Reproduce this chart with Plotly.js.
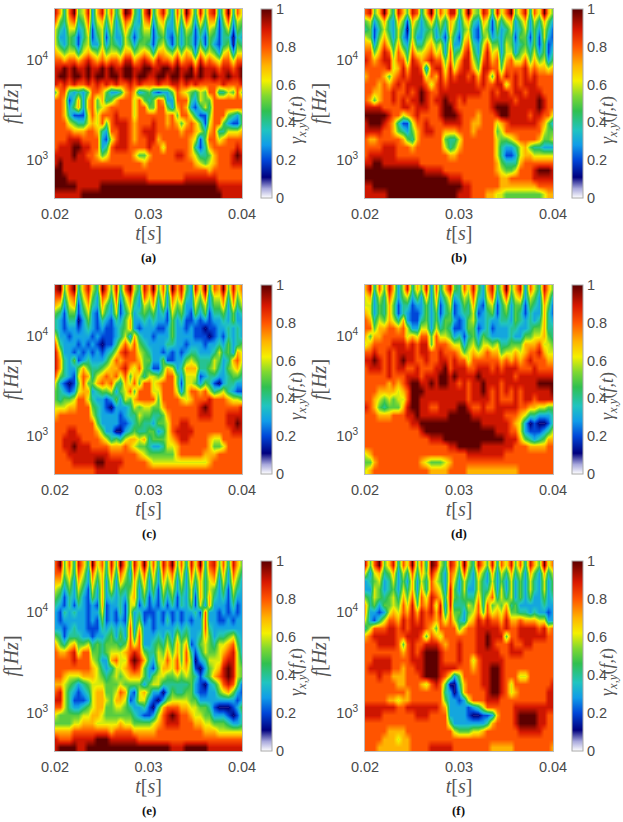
<!DOCTYPE html>
<html><head><meta charset="utf-8">
<script src="https://cdn.plot.ly/plotly-3.0.1.min.js"></script>
<style>html,body{margin:0;padding:0;background:#fff}#c{width:623px;height:822px}</style>
</head><body><div id="c"></div>
<script>
const times=[.02,.0205,.021,.0215,.022,.0225,.023,.0235,.024,.0245,.025,.0255,.026,.0265,.027,.0275,.028,.0285,.029,.0295,.03,.0305,.031,.0315,.032,.0325,.033,.0335,.034,.0345,.035,.0355,.036,.0365,.037,.0375,.038,.0385,.039,.0395,.04];
const freqs=[29580,24660,20560,17140,14320,11940,9950,8300,6930,5780,4820,4020,3360,2800,2330,1950,1625,1355,1130,942,787,656,547,456];
const tickLabelsX=[0.02,0.03,0.04];
const tickValsY=[1000,10000];
const tickLabelsY=["10<sup>3</sup>","10<sup>4</sup>"];
const barTicks=[0,0.2,0.4,0.6,0.8,1];
const panelLabels=["(a)","(b)","(c)","(d)","(e)","(f)"];
// coherence in tenths, rows listed from the highest frequency down
const coherenceA=[
[9,7,4,8,10,5,6,9,3,7,9,5,8,4,6,10,9,5,3,8,10,4,7,9,6,3,8,5,10,7,4,9,5,8,9,3,6,10,4,8,6],
[8,5,4,7,8,4,5,8,3,6,7,4,7,3,5,8,7,4,3,7,8,3,6,7,4,3,7,4,8,6,3,7,4,7,7,2,5,8,3,6,5],
[6,4,3,6,6,3,4,7,2,5,6,3,6,3,4,7,5,3,4,6,6,2,5,6,3,3,6,3,6,5,2,5,3,6,5,2,4,6,2,5,4],
[6,3,3,5,4,2,4,6,2,4,6,2,5,3,3,6,4,2,4,5,5,2,4,5,3,2,5,3,5,4,2,4,2,5,4,2,4,4,1,4,3],
[6,4,3,5,4,2,5,6,3,3,6,3,5,4,3,6,5,3,5,5,4,2,5,6,4,2,5,3,5,4,2,5,2,5,3,2,4,5,1,5,4],
[7,6,5,6,6,4,6,7,6,5,7,5,6,6,5,7,7,5,6,7,6,4,7,7,6,5,7,5,7,6,3,7,5,6,5,3,6,7,3,6,6],
[8,8,7,8,8,7,8,9,8,7,8,7,8,8,7,9,9,7,8,9,8,7,9,8,8,7,9,7,8,8,6,9,7,8,7,6,8,8,6,8,8],
[9,9,10,9,10,9,9,10,9,9,10,9,10,9,9,10,10,9,9,10,10,9,9,10,10,9,10,9,9,10,8,10,9,9,9,8,9,9,8,9,10],
[9,10,10,9,10,10,9,10,9,10,10,9,10,10,9,10,10,9,10,10,9,9,10,10,9,10,10,9,10,10,9,10,9,9,10,9,9,10,9,9,10],
[9,8,9,8,9,8,8,9,8,9,8,9,8,9,8,8,9,8,9,8,8,8,9,8,8,9,9,8,9,8,9,8,8,8,8,8,9,8,8,8,9],
[5,8,8,4,3,4,3,5,8,8,7,5,3,3,4,7,8,7,3,4,5,3,2,3,3,5,8,7,6,5,4,6,5,8,8,4,4,6,5,8,5],
[8,8,7,2,4,7,3,7,8,5,7,4,5,7,8,8,8,6,8,5,4,5,8,7,3,3,8,8,8,4,3,6,5,5,8,8,8,8,8,8,8],
[8,8,7,3,5,7,3,7,8,5,6,7,8,8,8,8,8,6,8,8,5,5,8,8,5,3,7,8,7,3,2,4,6,4,8,8,8,8,8,8,8],
[8,8,7,4,2,2,2,6,8,6,8,8,8,9,8,8,8,6,8,8,8,8,8,8,7,8,5,8,8,6,4,2,2,5,8,8,8,5,4,3,5],
[8,8,8,6,5,4,4,6,7,6,8,5,8,9,9,9,8,7,8,8,8,9,8,8,7,8,7,5,7,8,7,5,2,6,8,8,5,3,2,2,5],
[8,8,8,8,7,7,7,8,8,7,4,3,8,8,9,9,8,7,8,9,9,9,8,8,8,8,8,7,8,8,7,6,4,7,8,4,4,6,6,6,7],
[8,8,8,9,9,9,8,8,8,8,3,2,6,8,9,9,8,7,8,8,9,9,7,8,8,8,8,8,8,7,6,2,5,8,8,6,7,8,8,8,8],
[8,9,9,9,10,10,9,9,8,8,3,4,8,9,9,9,8,8,8,8,9,8,8,6,8,8,8,8,8,7,4,2,4,7,8,8,8,8,8,9,8],
[9,9,9,9,10,9,9,8,8,7,5,6,8,8,8,8,8,7,5,5,7,8,8,8,8,8,9,9,8,7,6,4,4,5,7,8,8,8,9,10,9],
[9,10,9,9,9,9,9,9,8,8,8,8,8,8,8,8,8,8,8,7,8,8,8,8,8,8,8,8,8,8,7,6,5,6,7,8,8,8,9,9,9],
[10,10,9,9,9,9,9,9,9,9,9,9,9,9,9,8,8,8,8,8,8,8,8,8,8,8,8,8,8,8,8,8,8,7,8,8,8,8,8,8,8],
[10,10,10,9,9,9,9,9,9,9,9,9,9,9,9,9,9,9,9,9,8,8,8,8,8,8,8,8,9,9,9,9,9,9,9,8,8,8,8,8,8],
[10,10,10,10,10,9,9,9,9,9,10,10,10,10,10,10,10,10,10,10,10,10,10,10,10,10,10,10,10,10,10,10,10,10,10,9,9,9,9,9,9],
[9,9,9,9,9,9,10,10,10,10,10,10,10,10,10,10,10,10,10,10,10,10,10,10,10,10,10,10,10,10,10,10,10,10,10,10,9,9,9,9,9]];
const coherenceB=[
[8,9,5,7,10,6,4,9,7,5,9,8,4,7,10,5,8,6,9,9,4,7,10,6,5,9,8,4,9,6,8,10,5,7,9,4,8,6,10,7,5],
[5,6,3,5,7,4,3,7,5,2,7,5,3,5,7,4,6,4,7,6,3,6,7,4,3,7,6,2,6,4,6,7,3,5,7,3,6,4,7,5,3],
[4,5,2,4,6,4,3,6,4,1,6,4,3,4,5,3,5,3,7,5,3,5,6,3,2,6,5,2,5,3,4,6,3,4,6,3,5,3,6,4,2],
[6,5,2,5,7,5,3,6,3,2,6,3,3,5,6,3,4,2,6,4,2,6,7,3,2,5,6,3,4,3,5,5,2,5,5,2,5,2,6,3,2],
[7,7,3,6,8,6,4,7,4,3,7,4,4,6,7,5,6,3,7,3,3,7,8,4,3,6,8,5,5,3,6,5,3,4,5,3,5,2,5,2,3],
[8,8,5,7,9,8,5,8,6,4,8,6,6,7,8,6,7,3,8,4,5,8,9,5,3,7,9,6,7,3,6,6,3,5,6,4,6,3,5,2,4],
[9,8,7,8,9,9,6,8,8,5,9,8,7,8,9,8,8,5,8,5,7,9,9,6,4,8,9,7,8,4,7,8,6,6,8,5,7,5,6,3,5],
[8,8,8,8,8,9,6,7,9,7,9,9,8,3,8,9,9,6,9,6,8,9,9,7,5,9,9,8,8,5,8,8,8,8,9,7,8,7,7,6,7],
[7,8,8,8,7,5,7,8,9,8,9,9,9,6,8,7,9,7,9,8,9,9,8,9,7,9,8,5,9,7,9,8,9,8,9,8,9,8,8,8,8],
[8,8,8,7,8,7,8,9,8,9,9,9,9,8,6,8,9,8,9,9,9,9,9,9,8,9,8,8,9,9,6,8,9,8,9,9,9,8,8,8,8],
[8,8,7,7,8,8,9,8,8,9,8,9,10,9,8,8,9,9,9,9,9,9,9,9,9,8,8,9,8,9,9,8,9,9,8,9,9,9,8,8,8],
[8,7,5,7,8,8,9,8,9,8,9,9,10,9,8,9,9,10,9,9,8,9,8,8,8,8,8,9,9,9,9,9,8,9,9,9,9,10,9,8,8],
[9,9,9,9,8,8,8,8,9,9,8,9,9,9,8,8,9,10,10,9,8,8,8,8,8,8,8,9,10,10,10,9,9,9,9,9,9,10,9,8,8],
[10,10,10,10,10,9,8,8,6,7,8,9,8,8,8,8,9,10,10,10,9,8,8,8,7,8,8,8,9,10,10,9,9,9,9,8,9,9,8,8,6],
[9,10,10,10,9,8,7,4,2,2,6,8,8,9,8,8,8,9,9,9,9,8,8,7,7,8,8,8,6,7,8,9,9,9,9,9,9,8,7,5,3],
[9,9,9,9,8,8,7,5,4,3,5,7,8,9,9,8,8,7,7,7,8,8,8,7,8,8,8,8,5,6,8,8,8,8,8,8,8,8,6,5,5],
[8,7,7,8,8,8,8,8,7,5,4,7,8,8,8,8,8,5,4,4,6,8,8,8,8,8,8,8,6,5,5,6,7,8,8,8,8,7,5,5,6],
[8,8,8,8,9,9,9,8,8,8,7,8,8,8,8,8,8,6,4,5,7,8,8,8,8,8,8,8,6,4,3,3,4,6,7,5,4,4,3,3,3],
[8,9,9,9,9,9,9,8,8,8,8,8,8,8,8,8,8,8,7,7,8,8,8,8,8,8,8,8,6,4,2,2,3,6,7,7,6,6,6,6,6],
[9,9,10,10,9,9,9,9,9,9,9,9,8,8,8,8,8,8,8,8,8,8,8,8,8,8,8,8,7,5,4,4,4,7,8,8,8,8,8,8,8],
[10,10,10,10,10,10,10,10,10,10,10,10,10,9,9,9,9,8,8,8,8,8,8,8,8,8,8,8,7,6,5,5,6,8,8,8,9,10,10,10,9],
[10,10,10,10,10,10,10,10,10,10,10,10,10,10,10,10,10,10,9,9,9,8,8,8,8,8,8,8,8,7,7,8,8,8,8,8,9,9,9,9,9],
[9,9,10,10,10,10,10,10,10,10,10,10,10,10,10,10,10,10,10,10,10,9,9,8,8,8,8,8,8,7,7,7,7,7,7,7,7,8,8,8,8],
[9,9,9,9,9,10,10,10,10,10,10,10,10,10,10,10,10,10,10,10,9,9,9,8,8,8,7,7,6,6,5,5,5,5,5,5,5,5,6,7,7]];
const coherenceC=[
[9,10,5,8,10,4,7,9,6,4,10,8,5,9,4,8,10,6,4,9,7,10,5,8,4,10,7,9,5,3,9,6,10,4,8,7,10,5,9,6,8],
[8,8,4,7,8,3,6,8,5,3,8,7,4,8,3,6,8,5,3,8,6,8,4,7,3,8,6,8,4,3,7,5,8,3,6,6,8,4,8,5,7],
[7,6,3,6,7,2,5,7,4,3,7,5,3,7,2,5,7,4,3,6,5,7,3,6,3,7,5,6,3,3,6,4,6,3,5,5,7,3,7,4,6],
[5,4,2,5,5,2,4,6,3,2,6,4,3,6,2,4,6,3,4,5,4,5,3,4,2,6,4,5,3,2,5,3,5,2,4,4,5,3,5,3,4],
[4,3,2,4,4,1,3,5,3,2,4,3,2,4,3,5,7,3,3,4,3,4,3,3,2,5,3,4,2,2,3,2,3,2,3,3,4,3,5,3,3],
[4,3,2,3,3,2,3,4,3,2,3,2,2,3,4,5,7,3,2,3,3,3,2,2,3,5,3,3,2,3,2,2,1,2,2,3,3,4,3,4,3],
[6,3,3,2,3,3,3,3,2,3,2,2,2,3,4,6,3,7,4,3,3,2,3,3,3,5,3,3,3,3,2,2,2,1,2,3,2,4,3,4,3],
[8,4,3,3,3,2,3,2,3,2,1,2,2,4,6,8,6,8,5,4,3,3,3,3,4,4,3,3,2,3,3,3,2,3,3,4,3,5,3,4,5],
[9,6,3,3,2,3,2,3,2,3,2,3,4,6,8,9,8,8,6,5,4,3,3,2,3,2,3,2,3,4,4,3,3,3,4,6,4,5,3,7,6],
[9,7,4,3,5,2,3,4,3,3,3,4,6,8,7,8,8,8,7,5,5,3,3,5,2,2,3,3,5,6,5,4,4,4,6,5,3,4,7,8,6],
[9,7,4,3,3,5,7,5,4,4,5,6,7,7,8,9,7,6,8,5,4,2,2,5,7,6,3,4,7,7,7,4,4,5,6,4,3,5,6,7,5],
[8,5,4,3,2,6,8,7,4,6,7,8,7,8,6,8,5,7,6,4,6,6,5,6,8,8,5,3,6,6,6,2,3,4,4,3,3,4,5,5,4],
[6,3,2,1,2,5,8,5,5,7,8,7,8,5,4,7,6,8,5,8,8,6,7,8,8,8,5,2,6,6,5,3,5,4,2,1,3,4,4,3,3],
[5,4,3,2,3,6,7,7,3,4,5,5,6,3,5,6,8,5,8,8,8,6,6,8,8,8,6,3,6,8,8,7,8,6,4,5,6,4,3,2,2],
[5,4,5,5,6,8,8,6,4,3,3,2,3,5,3,6,5,7,8,8,8,8,5,8,8,8,8,7,6,7,8,8,8,9,8,8,8,7,6,6,5],
[6,6,6,7,7,8,8,8,5,4,3,2,1,3,3,3,4,6,5,6,6,5,5,7,8,8,8,8,8,8,8,9,10,9,8,8,8,8,8,8,9],
[7,8,8,8,8,8,8,8,6,4,3,3,3,3,2,3,4,4,6,5,5,4,4,5,7,8,8,8,8,8,8,9,9,9,8,8,8,9,9,9,9],
[8,8,8,8,8,8,8,8,8,5,3,3,3,3,2,2,3,4,5,4,4,3,5,5,6,8,8,9,9,8,8,8,8,8,8,8,8,9,9,10,9],
[8,8,8,9,9,8,8,8,8,7,5,3,3,1,1,3,4,5,4,4,5,5,3,4,6,8,9,9,9,9,8,8,8,8,8,8,8,8,9,9,9],
[8,8,9,9,9,9,8,8,8,8,7,6,4,5,4,6,7,7,6,7,4,5,5,5,6,7,8,9,9,8,8,8,8,7,6,6,8,8,8,8,8],
[8,8,9,9,10,9,9,9,8,8,8,8,7,7,7,8,7,6,5,5,4,3,3,4,6,6,7,8,8,8,8,8,8,7,5,5,6,8,8,8,8],
[8,8,8,9,9,9,9,9,9,9,9,9,8,8,8,8,8,8,7,6,5,5,5,5,5,5,7,8,8,8,8,8,7,7,7,8,8,8,8,8,8],
[8,8,8,8,9,9,9,9,9,10,10,9,9,9,9,8,8,8,8,8,7,6,6,6,6,6,6,6,6,6,6,6,6,7,8,8,8,8,8,8,8],
[8,8,8,8,8,8,8,8,8,9,9,9,9,9,8,8,8,8,8,8,8,8,8,8,8,8,8,8,8,8,8,8,8,8,8,8,8,8,8,8,8]];
const coherenceD=[
[7,9,4,8,5,9,7,3,6,9,4,7,5,9,3,8,4,7,9,5,4,8,6,9,5,3,7,9,4,6,10,5,7,9,3,8,6,4,9,7,5],
[6,7,3,6,4,8,6,3,5,6,3,5,3,7,3,7,3,5,7,3,4,6,5,8,4,3,6,8,3,5,8,4,6,7,3,6,5,3,8,6,3],
[6,6,3,5,4,7,5,2,4,4,2,3,3,5,3,6,2,4,6,2,3,5,4,7,3,2,5,6,2,4,6,3,5,5,2,5,4,3,7,5,2],
[7,6,3,5,4,7,5,2,4,3,2,2,3,5,3,5,2,4,5,2,3,4,4,6,2,3,4,5,2,4,5,3,5,4,2,4,3,3,7,4,2],
[8,7,4,6,5,7,6,4,7,3,2,2,4,5,3,5,3,5,5,3,2,3,5,6,3,3,4,3,3,4,4,3,5,4,3,4,3,4,7,4,3],
[8,8,5,7,7,8,8,7,8,6,3,3,6,6,3,6,4,5,4,2,2,3,5,5,2,3,4,2,3,3,3,4,4,3,3,4,5,5,7,4,4],
[7,5,7,7,8,8,8,8,8,6,7,6,8,8,5,8,6,6,5,3,4,2,4,5,3,5,4,3,3,3,3,4,3,3,5,5,6,6,7,5,4],
[6,7,8,8,8,8,9,9,9,8,9,8,9,9,5,8,8,8,7,6,6,3,5,6,4,6,6,5,6,4,4,5,5,5,7,7,7,8,6,6,5],
[8,8,9,8,8,9,8,9,9,9,9,8,9,9,8,8,9,8,8,8,7,5,6,7,6,7,8,7,7,5,6,6,7,6,7,8,8,9,7,6,6],
[9,9,10,9,8,9,8,9,10,9,9,8,8,9,8,8,9,9,8,9,8,8,6,8,8,8,8,8,8,7,8,7,8,7,8,9,8,8,8,7,7],
[8,9,9,9,8,9,8,9,9,8,8,9,8,8,8,9,9,10,8,9,9,9,8,8,9,9,9,8,9,8,9,9,9,8,8,8,9,8,8,8,8],
[8,8,8,8,8,9,8,8,8,9,9,9,8,9,9,9,10,10,9,10,9,9,9,9,10,9,9,9,9,9,9,9,8,9,9,9,9,9,9,9,9],
[8,8,8,8,8,7,8,7,8,9,10,10,9,9,10,9,10,10,9,9,8,9,8,9,9,10,9,9,9,8,9,9,9,9,9,9,9,10,10,10,10],
[8,8,8,7,7,7,7,6,7,8,10,10,10,9,9,9,9,9,9,9,9,9,8,9,9,10,9,8,9,8,9,8,9,8,9,9,9,9,9,9,10],
[8,8,7,6,5,6,5,6,6,8,10,10,9,9,9,9,9,9,9,9,9,9,8,9,9,9,9,8,9,8,8,8,9,8,9,9,8,9,9,9,9],
[9,8,7,5,4,5,5,5,7,9,10,10,9,9,8,8,9,9,9,9,10,10,9,8,8,9,8,8,9,9,9,9,9,8,8,7,7,6,6,5,5],
[8,8,8,7,7,7,8,8,8,9,9,10,9,9,9,9,9,9,10,10,10,10,10,9,9,9,9,9,9,9,8,8,8,7,6,4,4,3,3,3,4],
[8,8,8,8,8,8,8,8,8,8,9,9,10,10,10,10,10,10,10,10,10,10,10,10,10,9,9,9,9,9,9,8,7,6,3,1,2,1,1,2,4],
[8,8,8,8,8,8,8,8,8,8,8,8,9,10,10,10,10,10,10,10,10,10,10,10,10,10,10,10,9,9,9,8,8,6,3,2,2,2,3,4,6],
[8,8,8,8,8,8,8,8,8,8,8,8,8,8,9,9,9,10,10,10,10,10,10,10,10,10,10,10,10,10,9,9,9,7,5,4,3,4,5,7,7],
[8,8,8,8,8,8,8,8,8,8,8,8,8,8,8,8,8,8,9,9,10,10,10,10,10,9,9,9,9,9,9,9,8,8,8,7,7,7,7,8,8],
[6,7,8,8,8,8,8,8,8,8,8,8,8,8,8,8,8,8,8,8,8,8,9,9,9,9,9,9,9,9,8,8,8,8,8,8,8,8,8,8,8],
[5,5,7,8,8,8,8,8,8,8,8,8,7,6,5,5,5,6,7,8,8,8,8,8,8,8,8,8,8,8,8,8,8,8,8,8,8,8,8,8,8],
[6,7,8,8,8,8,8,8,8,8,8,8,8,8,7,7,7,7,8,8,8,8,7,7,7,7,7,7,7,7,7,7,7,8,8,8,8,8,8,8,8]];
const coherenceE=[
[8,10,5,8,4,9,7,4,10,6,8,4,9,5,10,7,4,9,6,10,5,8,4,9,7,10,5,8,4,9,6,10,4,8,9,5,8,4,9,7,5],
[8,8,5,7,4,8,6,3,8,5,7,4,8,4,8,6,3,8,5,8,4,7,3,8,6,8,4,7,3,8,5,8,4,7,8,4,7,3,8,6,4],
[7,7,4,6,3,7,5,3,7,4,7,3,7,3,7,5,4,7,4,7,3,6,3,7,5,7,3,6,3,7,4,7,4,6,7,3,6,3,7,5,3],
[6,5,3,5,3,6,4,2,6,3,7,3,6,3,5,4,5,7,3,6,3,5,2,6,4,6,3,5,3,6,3,7,4,6,5,3,5,2,6,4,3],
[5,4,2,4,3,5,3,2,5,3,7,3,4,3,4,3,6,7,3,5,2,4,2,5,3,5,2,4,3,6,2,7,4,7,4,3,4,2,5,3,3],
[4,3,2,4,2,4,3,2,3,2,7,2,3,3,4,2,6,6,2,4,2,3,2,4,2,4,2,4,3,5,2,6,3,7,3,3,3,2,4,2,3],
[3,2,4,3,4,3,3,2,3,3,6,2,3,2,4,2,6,3,4,2,2,2,3,2,3,2,3,2,3,3,4,2,8,3,3,2,3,2,3,2,3],
[3,2,3,3,3,3,3,2,3,2,5,2,3,2,3,2,7,3,5,2,3,2,3,2,4,2,3,2,3,2,3,3,8,3,3,2,2,3,2,3,3],
[3,3,2,3,4,3,3,2,2,2,4,3,4,3,4,3,8,3,7,3,3,2,3,3,3,3,4,3,4,3,3,3,8,4,3,3,3,3,3,3,3],
[5,4,2,4,4,4,3,3,2,3,3,4,5,3,5,3,8,4,8,3,3,3,4,3,5,3,6,4,5,3,3,4,7,5,3,4,4,5,6,4,3],
[7,5,4,6,7,5,5,6,4,5,4,5,5,5,4,5,8,6,8,3,3,4,5,4,6,4,7,5,7,2,3,5,6,5,4,6,6,7,8,5,3],
[8,7,7,8,9,6,8,8,5,5,4,5,6,6,6,7,8,9,8,5,4,4,6,5,7,5,7,5,8,4,2,4,6,5,5,6,7,8,9,6,3],
[8,8,8,8,9,8,8,8,6,5,3,3,7,8,6,6,9,10,9,7,4,3,6,6,8,6,8,5,8,5,1,3,4,6,6,6,8,9,9,6,4],
[8,8,8,8,8,8,8,8,7,6,4,3,4,6,6,7,8,9,8,5,3,2,5,7,7,6,8,6,7,5,2,1,3,5,6,7,9,10,9,6,5],
[8,8,7,6,6,6,7,7,7,6,5,4,5,6,5,6,7,7,7,5,3,5,6,6,5,5,6,5,6,5,4,2,4,5,7,8,9,10,9,6,5],
[7,7,6,5,4,3,4,5,6,6,6,5,5,5,6,5,5,5,5,3,5,6,6,4,4,4,4,4,4,5,3,2,1,3,4,6,8,9,8,5,2],
[8,9,6,4,3,2,3,4,6,7,7,5,5,6,8,7,3,2,6,7,5,3,3,1,3,5,4,4,5,5,3,2,2,3,3,5,6,7,5,3,2],
[9,9,6,4,2,2,2,3,6,7,7,6,5,7,7,6,2,3,6,6,3,2,1,3,5,6,6,6,6,5,5,3,3,3,3,3,3,3,3,2,3],
[8,8,6,4,3,3,4,5,6,7,7,5,5,6,6,5,4,3,3,4,2,1,4,7,8,8,8,7,7,6,6,5,5,4,2,1,1,1,2,3,5],
[6,5,5,5,5,5,6,6,7,7,6,5,5,5,5,5,5,4,3,2,2,3,6,8,9,10,9,8,8,7,6,6,5,5,3,3,3,2,1,2,4],
[5,5,5,5,6,6,7,7,7,6,6,6,6,6,7,6,6,5,5,5,5,6,7,8,9,9,9,8,8,8,7,7,6,6,5,5,5,4,3,3,4],
[7,7,7,7,8,8,8,8,8,8,8,8,7,8,8,8,8,7,7,7,7,7,8,8,8,8,8,8,8,8,8,8,7,7,7,6,6,6,6,6,6],
[9,8,8,8,9,9,9,9,9,10,10,10,9,9,9,9,9,9,8,8,8,8,8,8,8,8,8,8,8,8,8,8,8,8,8,8,8,8,8,8,8],
[9,10,10,10,10,9,9,10,10,10,10,10,10,10,10,10,10,10,10,10,10,10,10,10,10,9,9,9,10,10,10,10,10,9,9,9,9,9,9,9,9]];
const coherenceF=[
[9,5,8,10,5,7,9,4,8,6,10,5,8,4,10,9,6,4,9,8,5,10,6,4,9,7,5,9,4,8,6,9,5,8,4,9,7,5,10,6,8],
[6,3,6,7,4,5,7,3,6,4,8,4,7,5,9,7,5,3,8,7,4,8,5,3,7,5,3,7,3,6,4,7,4,6,3,7,5,3,7,4,6],
[3,4,5,6,3,4,6,3,5,3,7,3,6,4,8,6,5,3,8,6,3,6,4,3,6,4,3,6,3,5,3,6,3,5,3,6,4,3,6,3,5],
[3,3,6,5,3,4,5,3,6,4,7,3,7,4,8,7,6,3,9,5,3,6,3,3,6,4,4,7,3,6,3,6,3,5,3,6,4,3,6,3,5],
[5,4,6,5,4,5,6,4,7,5,8,4,8,6,9,8,7,4,9,5,4,5,4,4,7,4,6,8,4,6,4,6,3,5,3,5,3,3,5,3,4],
[7,4,5,3,5,5,6,5,8,6,9,5,8,7,9,6,9,3,9,4,4,4,6,5,8,4,8,5,6,5,7,4,5,3,3,3,3,3,4,3,3],
[7,3,3,2,3,6,7,6,8,7,9,7,9,8,9,7,9,4,8,5,5,3,5,6,8,5,8,6,7,6,8,5,5,4,4,3,4,3,3,2,3],
[6,3,2,4,6,8,8,7,9,8,9,8,9,8,8,7,8,6,8,6,4,3,6,7,9,8,9,8,8,7,9,7,7,8,7,7,7,6,6,3,3],
[4,6,8,8,8,9,9,8,9,8,9,9,9,8,7,5,8,8,8,8,5,7,8,8,9,9,9,9,9,8,9,8,8,9,9,9,9,8,9,7,8],
[7,8,9,9,9,9,9,8,8,9,9,9,8,5,8,7,6,8,8,8,8,8,8,8,9,9,10,9,9,9,5,8,8,9,9,9,9,9,9,8,8],
[8,8,8,9,9,9,9,8,5,8,9,8,8,9,9,9,8,7,8,8,9,8,8,8,9,9,10,9,8,8,8,9,8,8,9,9,8,8,8,8,8],
[8,8,8,8,8,8,8,8,7,8,9,8,9,10,10,10,9,8,8,8,9,8,8,8,9,9,9,9,9,8,8,9,9,9,8,8,8,8,8,8,8],
[8,8,9,9,9,9,8,8,8,8,9,9,9,10,10,10,9,8,8,8,9,8,8,6,8,9,9,9,9,9,8,8,8,8,8,8,8,8,8,8,8],
[8,9,9,9,9,9,8,8,7,8,8,9,9,10,10,10,9,9,9,9,8,8,8,7,8,9,9,10,10,9,8,8,8,8,8,8,8,8,8,8,8],
[8,8,8,9,8,8,7,7,7,8,8,8,9,10,10,10,9,8,6,3,5,8,8,8,8,9,9,10,10,9,8,8,8,6,6,8,8,8,8,8,8],
[8,8,8,8,8,8,8,7,7,8,8,8,7,6,8,9,8,5,1,1,4,7,8,8,8,9,9,10,10,9,8,6,8,8,8,8,8,8,8,8,9],
[8,8,8,8,8,8,8,8,8,7,8,8,8,8,8,8,8,4,3,1,3,7,8,8,8,8,9,10,10,9,8,6,7,8,8,8,8,8,8,9,9],
[8,8,8,8,8,7,7,6,7,7,8,8,8,8,8,8,8,5,3,3,2,3,6,8,8,8,9,9,9,8,8,8,8,8,8,8,8,8,8,9,9],
[9,9,9,9,9,9,9,8,8,9,9,9,9,9,9,9,8,7,3,3,3,3,2,3,4,6,8,8,8,8,8,8,9,9,9,9,9,9,9,9,9],
[9,9,9,9,8,8,8,8,8,8,8,9,9,9,8,8,8,8,3,3,3,3,2,1,1,2,2,3,7,8,8,8,9,10,10,10,10,9,9,8,8],
[8,8,8,8,8,8,8,8,8,8,8,8,8,8,8,8,8,8,5,3,3,3,3,3,3,3,4,7,8,8,8,8,9,10,10,10,10,9,9,8,8],
[8,8,8,8,8,7,7,7,7,8,8,8,8,8,8,8,8,8,8,6,5,5,5,6,6,7,8,8,8,8,8,8,8,9,9,9,9,9,8,8,8],
[8,8,8,8,7,7,7,6,7,7,8,8,8,8,8,8,8,8,8,8,8,8,8,8,8,8,8,8,8,8,8,8,8,8,8,8,8,8,8,8,8],
[8,8,8,7,7,7,7,7,7,7,8,8,8,8,9,9,9,9,9,8,8,8,8,8,8,8,8,7,7,7,7,7,8,8,8,8,8,8,8,8,7]];

const panels=[coherenceA,coherenceB,coherenceC,coherenceD,coherenceE,coherenceF];
const W=623,H=822;
const lefts=[55,365,55,365,55,365], rights=[242,553,242,553,242,553];
const tops=[9,9,285,285,561,561], bottoms=[198,198,474,474,751,751];
const scale=[[0,'#ffffff'],[0.05,'#a8a8dc'],[0.11,'#00007e'],[0.2,'#0046d8'],[0.28,'#109ce8'],[0.36,'#20c4c0'],[0.46,'#30c050'],[0.54,'#80d830'],[0.62,'#f4f000'],[0.7,'#ffb400'],[0.8,'#ff5400'],[0.89,'#d81800'],[1,'#5c0000']];
const tickFont={family:'Liberation Sans, Arial, sans-serif',size:14.5,color:'#4a4a4a'};
const titleFont={family:'Liberation Serif, serif',size:20,color:'#555'};
const layout={width:W,height:H,margin:{l:0,r:0,t:0,b:0},paper_bgcolor:'#fff',plot_bgcolor:'#fff',showlegend:false,annotations:[]};
const data=panels.map((rows,i)=>{
  const n=i===0?'':String(i+1);
  const lineCol='#bdbdbd';
  layout['xaxis'+n]={domain:[lefts[i]/W,rights[i]/W],anchor:'y'+n,range:[0.02,0.04],tickvals:tickLabelsX,ticktext:tickLabelsX.map(String),tickfont:tickFont,ticks:'outside',ticklen:3,tickcolor:'rgba(0,0,0,0)',showgrid:false,zeroline:false,showline:true,mirror:true,linecolor:lineCol,linewidth:1,title:{text:'<i>t</i>[<i>s</i>]',font:titleFont,standoff:2}};
  layout['yaxis'+n]={domain:[1-bottoms[i]/H,1-tops[i]/H],anchor:'x'+n,type:'log',range:[2.62,4.51],tickvals:tickValsY,ticktext:tickLabelsY,tickfont:tickFont,ticks:'outside',ticklen:3,tickcolor:'rgba(0,0,0,0)',showgrid:false,zeroline:false,showline:true,mirror:true,linecolor:lineCol,linewidth:1,title:{text:'<i>f</i>[<i>Hz</i>]',font:titleFont,standoff:4}};
  layout.annotations.push({xref:'paper',yref:'paper',x:(rights[i]+55)/W,y:1-(tops[i]+111)/H,xanchor:'center',yanchor:'middle',showarrow:false,textangle:-90,text:'<i>γ<sub>x,y</sub></i>(<i>f,t</i>)',font:{family:'Liberation Serif, serif',size:18,color:'#555'}});
  layout.annotations.push({xref:'paper',yref:'paper',x:(lefts[i]+93.5)/W,y:1-(bottoms[i]+59)/H,xanchor:'center',yanchor:'middle',showarrow:false,text:'<b>'+panelLabels[i]+'</b>',font:{family:'Liberation Serif, serif',size:13,color:'#111'}});
  return {type:'heatmap',x:times,y:freqs,z:rows.map(r=>r.map(v=>v/10)),xaxis:'x'+n,yaxis:'y'+n,zmin:0,zmax:1,zsmooth:'best',colorscale:scale,hoverinfo:'skip',
    colorbar:{x:(rights[i]+19)/W,xanchor:'left',y:1-tops[i]/H,yanchor:'top',lenmode:'pixels',len:bottoms[i]-tops[i],thicknessmode:'pixels',thickness:11,xpad:0,ypad:0,outlinecolor:'#aaa',outlinewidth:1,borderwidth:0,tickvals:barTicks,ticktext:barTicks.map(String),tickfont:tickFont,ticks:''}};
});
Plotly.newPlot('c',data,layout,{displayModeBar:false,staticPlot:true});
</script></body></html>
